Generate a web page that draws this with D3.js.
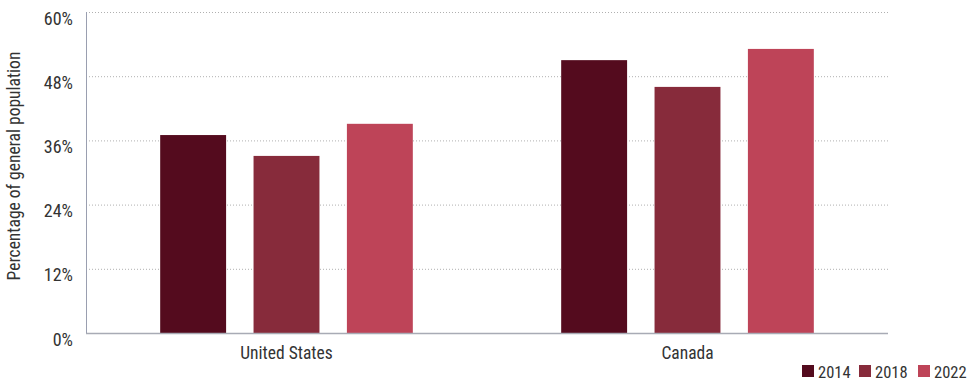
<!DOCTYPE html>
<html>
<head>
<meta charset="utf-8">
<script src="https://cdn.jsdelivr.net/npm/d3@7"></script>
<style>
body{margin:0;background:#fff;}
text{font-family:"Liberation Sans Narrow","Roboto Condensed","Roboto",sans-serif;fill:#333;}
</style>
</head>
<body>
<div id="chart"></div>
<script>
// data
var countries = ["United States", "Canada"];
var years = ["2014", "2018", "2022"];
var v2014 = [37.0, 51.0];
var v2018 = [33.1, 46.0];
var v2022 = [39.1, 53.1];
var yTicks = [0, 12, 24, 36, 48, 60];
var colors = ["#540b1e", "#872b3b", "#be4458"];

var width = 978, height = 381;
var margin = {top: 12, right: 90, bottom: 48, left: 86};

var svg = d3.select("#chart").append("svg")
	.attr("width", width)
	.attr("height", height);

var x0 = d3.scaleBand()
	.domain(countries)
	.range([margin.left, width - margin.right])
	.paddingInner(0.37)
	.paddingOuter(0.185);

var x1 = d3.scaleBand()
	.domain(years)
	.range([0, x0.bandwidth()])
	.paddingInner(0.294);

var y = d3.scaleLinear()
	.domain([0, 60])
	.range([height - margin.bottom, margin.top]);

var color = d3.scaleOrdinal().domain(years).range(colors);

var series = {"2014": v2014, "2018": v2018, "2022": v2022};

// gridlines
svg.append("g")
	.selectAll("line")
	.data(yTicks.filter(function(d){ return d > 0; }))
	.enter().append("line")
	.attr("x1", margin.left)
	.attr("x2", width - margin.right)
	.attr("y1", function(d){ return y(d) + 0.5; })
	.attr("y2", function(d){ return y(d) + 0.5; })
	.attr("stroke", "#b0b0b0")
	.attr("stroke-dasharray", "1,2");

// bars
var groups = svg.append("g")
	.selectAll("g")
	.data(countries)
	.enter().append("g")
	.attr("transform", function(d){ return "translate(" + x0(d) + ",0)"; });

groups.selectAll("rect")
	.data(function(c, i){
		return years.map(function(yr){ return {year: yr, value: series[yr][i]}; });
	})
	.enter().append("rect")
	.attr("x", function(d){ return x1(d.year); })
	.attr("y", function(d){ return y(d.value); })
	.attr("width", x1.bandwidth())
	.attr("height", function(d){ return y(0) - y(d.value); })
	.attr("fill", function(d){ return color(d.year); });

// baseline
svg.append("line")
	.attr("x1", margin.left)
	.attr("x2", width - margin.right)
	.attr("y1", y(0) + 0.5)
	.attr("y2", y(0) + 0.5)
	.attr("stroke", "#a8abb5")
	.attr("stroke-width", 1.5);

// y axis line
svg.append("line")
	.attr("x1", margin.left + 0.5)
	.attr("x2", margin.left + 0.5)
	.attr("y1", y(60))
	.attr("y2", y(0))
	.attr("stroke", "#9a9fb0");

// y tick labels
svg.append("g")
	.selectAll("text")
	.data(yTicks)
	.enter().append("text")
	.attr("x", 73)
	.attr("y", function(d){ return y(d) + 12.5; })
	.attr("text-anchor", "end")
	.style("font-size", "18px")
	.text(function(d){ return d + "%"; });

// y title
svg.append("text")
	.attr("transform", "translate(20," + 166 + ") rotate(-90)")
	.attr("text-anchor", "middle")
	.style("font-size", "17.5px")
	.text("Percentage of general population");

// x labels
svg.append("g")
	.selectAll("text")
	.data(countries)
	.enter().append("text")
	.attr("x", function(d){ return x0(d) + x0.bandwidth() / 2; })
	.attr("y", 359)
	.attr("text-anchor", "middle")
	.style("font-size", "17.5px")
	.text(function(d){ return d; });

// legend
var legendX = [802, 859, 918];
var legend = svg.append("g")
	.selectAll("g")
	.data(years)
	.enter().append("g")
	.attr("transform", function(d, i){ return "translate(" + legendX[i] + ",365)"; });
legend.append("rect")
	.attr("width", 12)
	.attr("height", 12)
	.attr("fill", function(d){ return color(d); });
legend.append("text")
	.attr("x", 16)
	.attr("y", 12.5)
	.style("font-size", "16.5px")
	.text(function(d){ return d; });
</script>
</body>
</html>
